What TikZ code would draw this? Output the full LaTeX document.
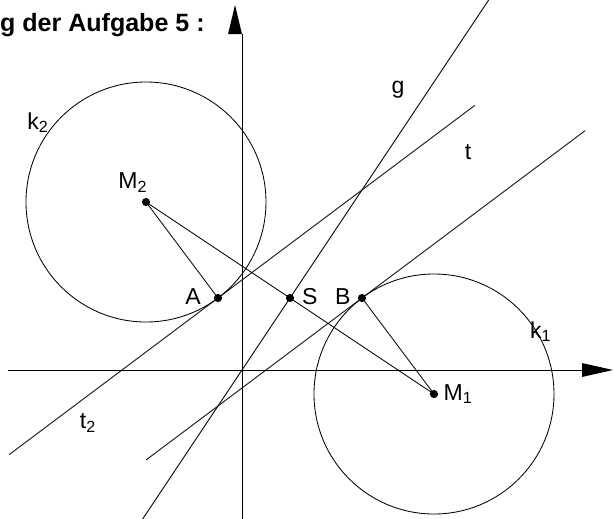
\documentclass[tikz,border=0pt]{standalone}
\usepackage{fontspec}
\setmainfont{Liberation Sans}
\begin{document}
\begin{tikzpicture}[x=0.6cm,y=0.6cm,line width=0.6pt,
  punkt/.style={circle,fill,inner sep=0pt,minimum size=5.8pt},
  lbl/.style={font=\fontsize{16.4}{19}\selectfont,inner sep=0pt}]
\useasboundingbox (-10.083,-6.167) rectangle (15.5,15.417);

% Achsen
\coordinate (xL) at (-9.75,0);
\coordinate (xR) at (14.17,0);
\coordinate (yB) at (0,-6.3);
\coordinate (yT) at (0,14.0);
\draw (xL) -- (xR);
\draw (yB) -- (yT);
\fill (14.17,0.29) -- (15.46,0) -- (14.17,-0.29) -- cycle;
\fill (-0.58,14.0) -- (-0.29,15.21) -- (0,14.0) -- cycle;

% Punkte
\coordinate (M1) at (8,-1);
\coordinate (M2) at (-4,7);
\coordinate (A) at (-1,3);
\coordinate (S) at (2,3);
\coordinate (B) at (5,3);

% Kreise k1, k2
\draw (M1) circle (3cm);
\draw (M2) circle (3cm);

% Geraden g, t, t2
\coordinate (gU) at (-4.2,-6.3);
\coordinate (gO) at (10.3,15.45);
\coordinate (tU) at (-4,-3.75);
\coordinate (tO) at (14.3,9.975);
\coordinate (t2U) at (-9.7,-3.525);
\coordinate (t2O) at (9.7,11.025);
\draw (gU) -- (gO);
\draw (tU) -- (tO);
\draw (t2U) -- (t2O);

% Strecken
\draw (M2) -- (A);
\draw (M2) -- (M1);
\draw (B) -- (M1);

\foreach \p in {A,S,B,M1,M2}
  \node[punkt] at (\p) {};

% Beschriftung
\node[lbl] (lA)  at (-2.04,3.04) {A};
\node[lbl] (lS)  at (2.83,3.04) {S};
\node[lbl] (lB)  at (4.2,3.04) {B};
\node[lbl] (lM1) at (9.0,-1.0) {M\textsubscript{1}};
\node[lbl] (lM2) at (-4.55,7.8) {M\textsubscript{2}};
\node[lbl] (lk1) at (12.45,1.6) {k\textsubscript{1}};
\node[lbl] (lk2) at (-8.5,10.3) {k\textsubscript{2}};
\node[lbl] (lg)  at (6.5,11.67) {g};
\node[lbl] (lt)  at (9.42,9.08) {t};
\node[lbl] (lt2) at (-6.42,-2.2) {t\textsubscript{2}};

\node[font=\bfseries\fontsize{17.8}{20}\selectfont,anchor=base east,inner sep=0pt]
  (titel) at (-1.54,14.12) {Lösung der Aufgabe 5 :};

\end{tikzpicture}
\end{document}
